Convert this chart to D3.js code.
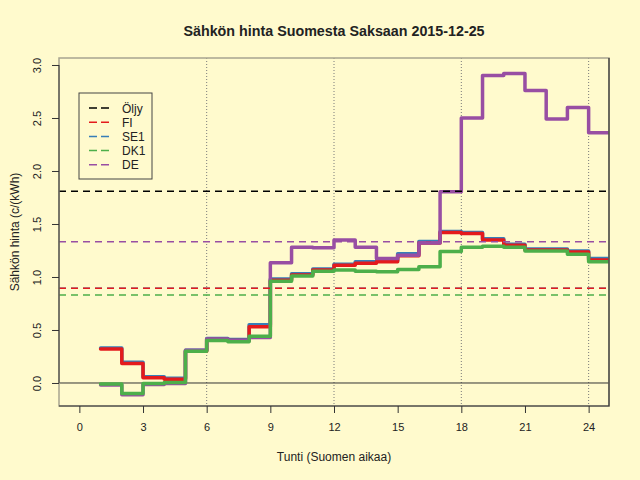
<!DOCTYPE html>
<html>
<head>
<meta charset="utf-8">
<script src="https://cdn.jsdelivr.net/npm/d3@7"></script>
<style>
  body { margin: 0; background: #fffacd; }
  svg { display: block; font-family: "Liberation Sans", Arial, sans-serif; }
</style>
</head>
<body>
<svg id="chart" width="640" height="480"></svg>
<script>
// tunnit 1..24, hinnat c/kWh
var hours = d3.range(1, 25);
var fi  = [0.32, 0.185, 0.05, 0.035, 0.30, 0.41, 0.40, 0.53, 0.97, 1.02, 1.065, 1.11, 1.13, 1.145, 1.20, 1.32, 1.42, 1.41, 1.35, 1.30, 1.255, 1.255, 1.235, 1.16];
var se1 = [0.33, 0.195, 0.06, 0.045, 0.31, 0.42, 0.41, 0.55, 0.98, 1.03, 1.075, 1.12, 1.145, 1.155, 1.22, 1.335, 1.43, 1.42, 1.36, 1.31, 1.265, 1.265, 1.245, 1.175];
var dk1 = [-0.01, -0.10, -0.005, 0.005, 0.30, 0.40, 0.39, 0.44, 0.96, 1.01, 1.055, 1.066, 1.054, 1.05, 1.07, 1.097, 1.24, 1.28, 1.29, 1.28, 1.245, 1.245, 1.215, 1.145];
var de  = [-0.02, -0.11, -0.015, -0.005, 0.31, 0.415, 0.40, 0.43, 1.135, 1.28, 1.275, 1.35, 1.28, 1.175, 1.205, 1.32, 1.805, 2.50, 2.90, 2.92, 2.76, 2.49, 2.60, 2.36];

// keskiarvot (katkoviivat)
var meanNames = ["Öljy", "SE1", "FI", "DK1", "DE"];
var meanValues = [1.81, 0.895, 0.893, 0.83, 1.333];

var legendNames = ["Öljy", "FI", "SE1", "DK1", "DE"];
var colors = {"Öljy": "#000000", "FI": "#E41A1C", "SE1": "#377EB8", "DK1": "#4DAF4A", "DE": "#984EA3"};

var xTicks = [0, 3, 6, 9, 12, 15, 18, 21, 24];
var yTicks = [0, 0.5, 1, 1.5, 2, 2.5, 3];
var vLines = [6, 12, 18, 24];

var svg = d3.select("#chart");
var area = {left: 59, right: 609, top: 58, bottom: 406};

var xScale = d3.scaleLinear().domain([-0.96, 24.96]).range([area.left, area.right]);
var yScale = d3.scaleLinear().domain([-0.217, 3.066]).range([area.bottom, area.top]);

svg.append("defs").append("clipPath").attr("id", "clip")
    .append("rect")
    .attr("x", area.left).attr("y", area.top)
    .attr("width", area.right - area.left).attr("height", area.bottom - area.top);

var plot = svg.append("g").attr("clip-path", "url(#clip)");

// pystysuorat pisteviivat
plot.selectAll("line.vgrid").data(vLines).enter()
    .append("line")
    .attr("class", "vgrid")
    .attr("x1", (d) => xScale(d)).attr("x2", (d) => xScale(d))
    .attr("y1", area.top).attr("y2", area.bottom)
    .attr("stroke", "#7a7a7a").attr("stroke-width", 1)
    .attr("stroke-dasharray", "1,2");

// nollataso
plot.append("line")
    .attr("x1", area.left).attr("x2", area.right)
    .attr("y1", yScale(0)).attr("y2", yScale(0))
    .attr("stroke", "#333").attr("stroke-width", 1);

var step = d3.line()
    .x((d) => xScale(d[0]))
    .y((d) => yScale(d[1]))
    .curve(d3.curveStepAfter);

function series(values) {
    var pts = hours.map((h, i) => [h, values[i]]);
    pts.push([25, values[values.length - 1]]);
    return pts;
}

var drawOrder = [["SE1", se1], ["FI", fi], ["DE", de], ["DK1", dk1]];
drawOrder.forEach((s) => {
    plot.append("path")
        .datum(series(s[1]))
        .attr("d", step)
        .attr("fill", "none")
        .attr("stroke", colors[s[0]])
        .attr("stroke-width", 3.5)
        .attr("stroke-linejoin", "round")
        .attr("stroke-linecap", "round");
});

// keskiarvoviivat
plot.selectAll("line.mean").data(meanValues).enter()
    .append("line")
    .attr("class", "mean")
    .attr("x1", area.left).attr("x2", area.right)
    .attr("y1", (d) => yScale(d)).attr("y2", (d) => yScale(d))
    .attr("stroke", (d, i) => colors[meanNames[i]])
    .attr("stroke-width", 1.5)
    .attr("stroke-dasharray", "7,5");

// kehys
svg.append("rect")
    .attr("x", area.left).attr("y", area.top)
    .attr("width", area.right - area.left).attr("height", area.bottom - area.top)
    .attr("fill", "none").attr("stroke", "#a8a490").attr("stroke-width", 1.5);
svg.append("path")
    .attr("d", "M" + area.left + "," + area.bottom + "H" + area.right + "V" + area.top)
    .attr("fill", "none").attr("stroke", "#333").attr("stroke-width", 1.2);

// akselit
var xAxis = svg.append("g")
    .attr("transform", "translate(0," + area.bottom + ")")
    .call(d3.axisBottom(xScale).tickValues(xTicks).tickSize(7).tickPadding(10).tickFormat(d3.format("d")));
var yAxis = svg.append("g")
    .attr("transform", "translate(" + area.left + ",0)")
    .call(d3.axisLeft(yScale).tickValues(yTicks).tickSize(7).tickFormat(d3.format(".1f")));

[xAxis, yAxis].forEach((a) => {
    a.select(".domain").attr("stroke", "#333");
    a.selectAll(".tick line").attr("stroke", "#333");
    a.selectAll(".tick text").attr("fill", "#222").style("font-size", "11px");
});
xAxis.select(".domain").remove();
yAxis.select(".domain").attr("d", "M0," + yScale(0) + "V" + yScale(3));
yAxis.selectAll(".tick text")
    .attr("transform", "translate(-18,0) rotate(-90)")
    .attr("x", 0).attr("y", 0)
    .attr("dy", "0")
    .attr("text-anchor", "middle");

// otsikot
svg.append("text")
    .attr("x", (area.left + area.right) / 2).attr("y", 36)
    .attr("text-anchor", "middle")
    .style("font-size", "14.3px").style("font-weight", "bold")
    .attr("fill", "#222")
    .text("Sähkön hinta Suomesta Saksaan 2015-12-25");
svg.append("text")
    .attr("x", (area.left + area.right) / 2).attr("y", 461)
    .attr("text-anchor", "middle")
    .style("font-size", "12px").attr("fill", "#222")
    .text("Tunti (Suomen aikaa)");
svg.append("text")
    .attr("transform", "translate(19," + ((area.top + area.bottom) / 2) + ") rotate(-90)")
    .attr("text-anchor", "middle")
    .style("font-size", "12px").attr("fill", "#222")
    .text("Sähkön hinta (c/(kWh)");

// selite
var legend = svg.append("g");
legend.append("rect")
    .attr("x", 79).attr("y", 93).attr("width", 73).attr("height", 86)
    .attr("fill", "none").attr("stroke", "#444").attr("stroke-width", 1);
var items = legend.selectAll("g.item").data(legendNames).enter()
    .append("g").attr("class", "item")
    .attr("transform", (d, i) => "translate(0," + (108 + i * 14.2) + ")");
items.append("line")
    .attr("x1", 89).attr("x2", 109).attr("y1", 0).attr("y2", 0)
    .attr("stroke", (d) => colors[d]).attr("stroke-width", 1.5)
    .attr("stroke-dasharray", "8,4");
items.append("text")
    .attr("x", 122).attr("y", 4.5)
    .style("font-size", "12px").attr("fill", "#222")
    .text((d) => d);
</script>
</body>
</html>
